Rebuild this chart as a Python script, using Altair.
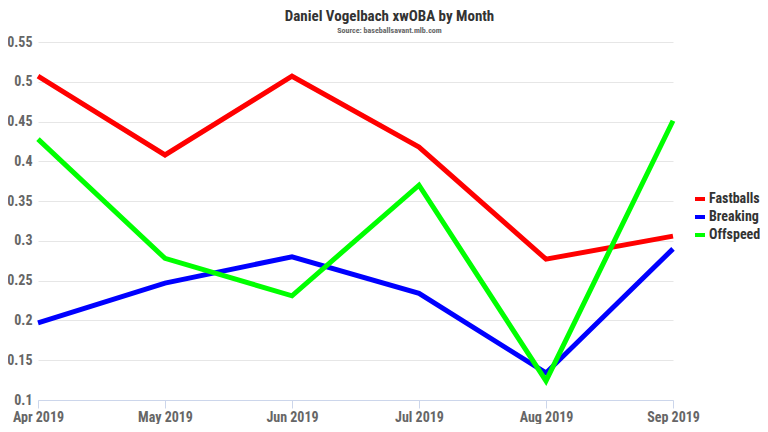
import altair as alt
import pandas as pd

months = ["Apr 2019", "May 2019", "Jun 2019", "Jul 2019", "Aug 2019", "Sep 2019"]
fastballs = [0.507, 0.408, 0.507, 0.418, 0.277, 0.306]
breaking = [0.197, 0.247, 0.280, 0.234, 0.134, 0.290]
offspeed = [0.428, 0.278, 0.231, 0.370, 0.124, 0.451]
series = ["Fastballs", "Breaking", "Offspeed"]
colors = ["#ff0000", "#0000ff", "#00ff00"]

rows = []
for name, vals in zip(series, [fastballs, breaking, offspeed]):
    for m, v in zip(months, vals):
        rows.append({"month": m, "value": v, "series": name})
df = pd.DataFrame(rows)

FONT = "Roboto Condensed, Liberation Sans Narrow, Roboto"

chart = alt.Chart(df).mark_line(strokeWidth=5).encode(
    x=alt.X("month:N", sort=months, scale=alt.Scale(type="point", padding=0),
            axis=alt.Axis(title=None, labelAngle=0, labelFont=FONT, labelFontSize=14,
                          labelFontWeight="bold", labelColor="#666666",
                          domainColor="#ccd6eb", tickColor="#ccd6eb", tickSize=8,
                          labelPadding=2, grid=False)),
    y=alt.Y("value:Q", scale=alt.Scale(domain=[0.1, 0.55], nice=False, zero=False),
            axis=alt.Axis(title=None, values=[0.1, 0.15, 0.2, 0.25, 0.3, 0.35, 0.4, 0.45, 0.5, 0.55],
                          format="~g", labelFont=FONT, labelFontSize=14, labelFontWeight="bold",
                          labelColor="#666666", domain=False, ticks=False, labelPadding=6,
                          gridColor="#e6e6e6")),
    color=alt.Color("series:N", sort=series,
                    scale=alt.Scale(domain=series, range=colors),
                    legend=alt.Legend(title=None, orient="none", legendX=655, legendY=150,
                                      labelFont=FONT, labelFontSize=14, labelFontWeight="bold",
                                      labelColor="#333333", symbolStrokeWidth=4, symbolSize=100,
                                      rowPadding=2, labelOffset=2)),
).properties(
    width=635, height=358,
    title=alt.TitleParams("Daniel Vogelbach xwOBA by Month",
                          subtitle="Source: baseballsavant.mlb.com",
                          font=FONT, fontSize=15, fontWeight="bold", color="#333333",
                          subtitleFont=FONT, subtitleFontSize=8, subtitleFontWeight="bold",
                          subtitleColor="#666666", anchor="middle", dx=34, offset=0),
    autosize=alt.AutoSizeParams(type="none"),
    padding={"left": 30, "top": 34, "right": 87, "bottom": 24},
).configure_view(stroke=None)

chart.save("out.html", embed_options={"renderer": "svg", "actions": False})
